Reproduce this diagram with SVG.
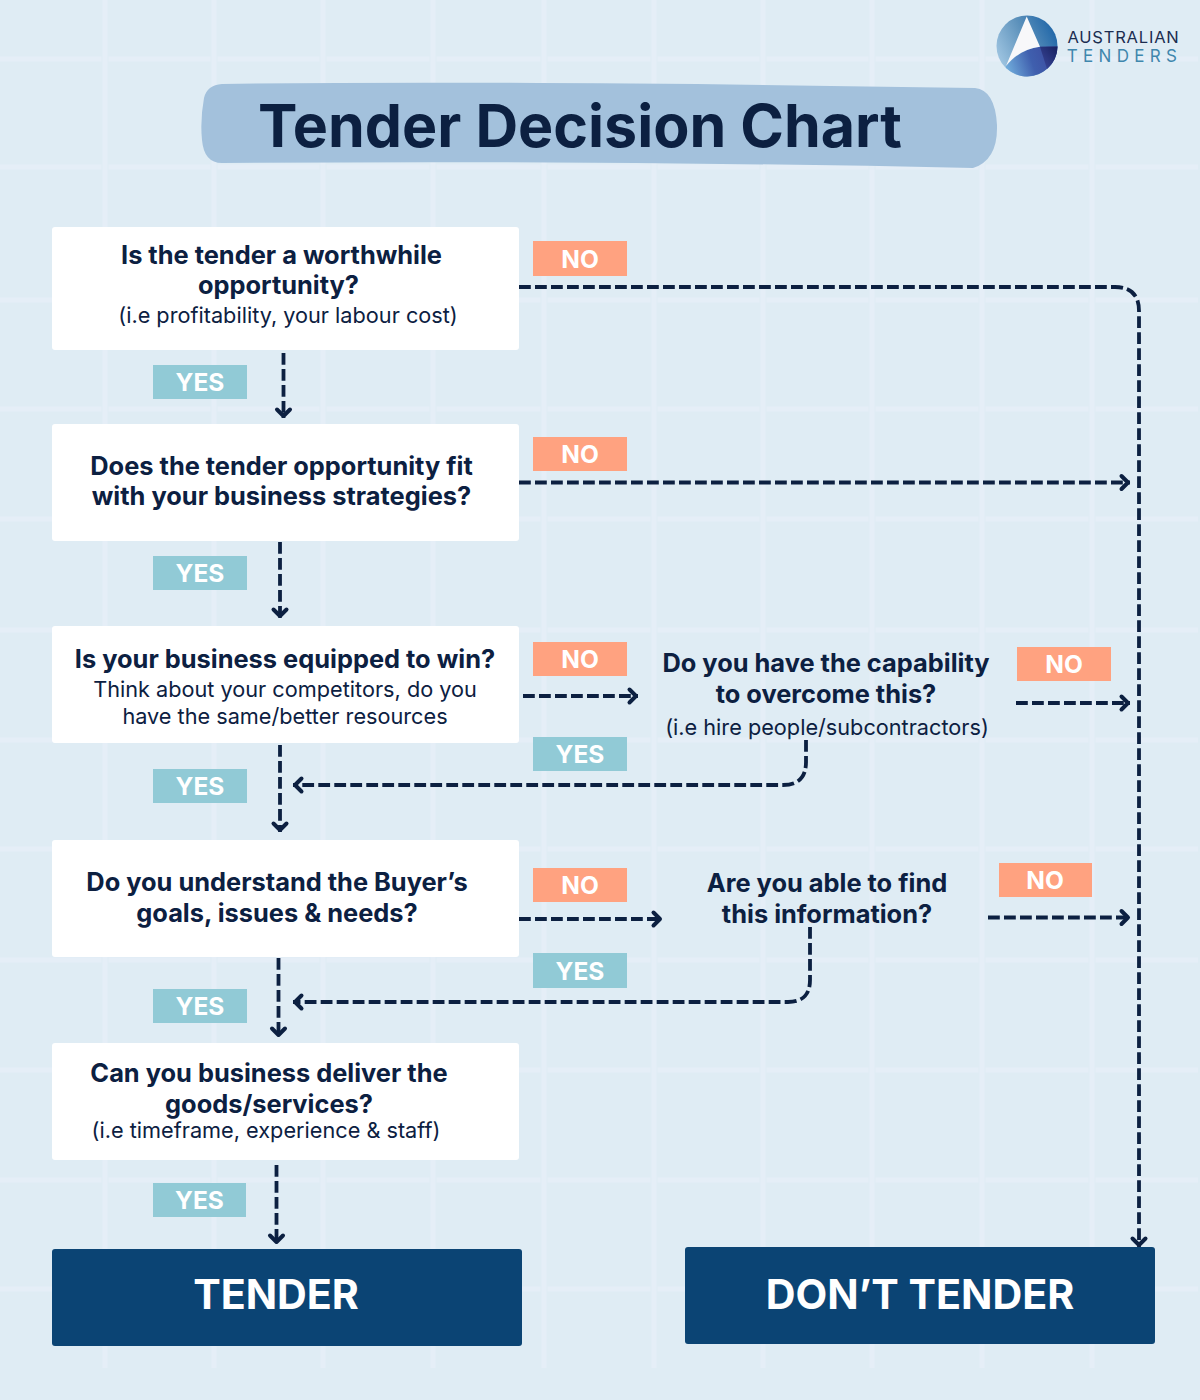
<svg xmlns="http://www.w3.org/2000/svg" width="1200" height="1400" viewBox="0 0 1200 1400">
<style>
text{font-family:"Inter","Liberation Sans",sans-serif;text-anchor:middle}
.q{font-size:25.400px;font-weight:700;fill:#0C2041}
.s{font-size:21.700px;font-weight:400;fill:#0C2041}
.t{font-size:24.500px;font-weight:700;fill:#fff}
.b{font-size:41.200px;font-weight:700;fill:#fff}
.box{fill:#fff}
.no{fill:#FFA280}
.yes{fill:#91CAD6}
.end{fill:#0B4474}
.h{stroke:#E5EEF7;stroke-width:5;fill:none}
.gap{stroke:#DFECF4;stroke-width:7;fill:none}
.v{stroke:#E5EEF7;stroke-width:5;fill:none}
.c{fill:none;stroke:#0C2041;stroke-width:3.800;stroke-dasharray:11.800 4.200;marker-end:url(#a)}
</style>
<defs>
<marker id="a" markerUnits="userSpaceOnUse" viewBox="-12 -10 20 20" refX="1.500" refY="0" markerWidth="20" markerHeight="20" orient="auto">
<path d="M-7,-6.500L-0.500,0L-7,6.500" fill="none" stroke="#0C2041" stroke-width="4" stroke-linecap="round" stroke-linejoin="round"/>
</marker>
<linearGradient id="g1" x1="0" y1="0.7" x2="1" y2="0.2"><stop offset="0" stop-color="#A0C6E2"/><stop offset="0.5" stop-color="#5F93BC"/><stop offset="1" stop-color="#1A62A6"/></linearGradient>
<linearGradient id="g2" x1="0" y1="0.6" x2="1" y2="0.4"><stop offset="0" stop-color="#6FAADA"/><stop offset="0.5" stop-color="#3F5FAE"/><stop offset="1" stop-color="#3C4A9E"/></linearGradient>
<linearGradient id="g3" x1="0" y1="1" x2="1" y2="0"><stop offset="0" stop-color="#3C4A9E"/><stop offset="1" stop-color="#17205F"/></linearGradient>
</defs>
<rect width="1200" height="1400" fill="#DFECF4"/>
<g id="grid">
<path class="h" d="M0,59H1198M0,167H1198M0,300H1198M0,409H1198M0,519H1198M0,630H1198M0,740H1198M0,849H1198M0,960H1198M0,1070H1198M0,1180H1198M0,1289H1198"/>
<path class="gap" d="M105,0V1368M214,0V1368M323,0V1368M433,0V1368M544,0V1368M654,0V1368M763,0V1368M872,0V1368M982,0V1368M1092,0V1368"/>
<path class="v" d="M105,0V1368M214,0V1368M323,0V1368M433,0V1368M544,0V1368M654,0V1368M763,0V1368M872,0V1368M982,0V1368M1092,0V1368"/>
</g>
<g id="logo">
<circle cx="1027" cy="46" r="30.500" fill="url(#g1)"/>
<path d="M1006,66C1017,53 1028,48.500 1040,46.700C1057,46.500 1057.500,46.500 1057.500,46.500A30.500,30.500 0 0 1 1006,68Z" fill="url(#g2)"/>
<path d="M1040,46.700L1057.500,46.500A30.500,30.500 0 0 1 1047,69Z" fill="url(#g3)"/>
<path d="M1026.700,16.500L1040,46.700C1026,48.500 1015,55 1006,66Z" fill="#F8F8FA"/>
<text x="1123.500" y="42.500" style="font-size:16.500px;font-weight:400;letter-spacing:0.800px;fill:#1B2C50">AUSTRALIAN</text>
<text x="1124.500" y="61.500" style="font-size:17px;font-weight:400;letter-spacing:5.300px;fill:#3F87AD">TENDERS</text>
</g>
<g id="title">
<path d="M204,98Q207,85 222,84Q500,80 975,88Q995,90 997,125Q998,160 973,168Q600,160 222,163Q204,163 202,140Q200,120 204,98Z" fill="#A3C1DC"/>
<text x="580" y="147" style="font-size:59px;font-weight:700;fill:#0C2041" textLength="644" lengthAdjust="spacingAndGlyphs">Tender Decision Chart</text>
</g>
<g id="connectors">
<path class="c" d="M519,287H1115Q1139,287 1139,311V1247"/>
<path class="c" d="M519,482.500H1130"/>
<path class="c" d="M283.500,353V418"/>
<path class="c" d="M280,542V618"/>
<path class="c" d="M280,745V832"/>
<path class="c" d="M278.500,958V1037"/>
<path class="c" d="M276.500,1165V1244"/>
<path class="c" d="M523,696H638"/>
<path class="c" d="M1016,703H1130"/>
<path class="c" d="M806,740V762Q806,785 783,785H293"/>
<path class="c" d="M519,919H662"/>
<path class="c" d="M988,917.500H1130"/>
<path class="c" d="M810,927V980Q810,1002 788,1002H293"/>
</g>
<g id="q1"><rect class="box" x="52" y="227" width="467" height="123" rx="3"/>
<text class="q" x="281.500" y="264">Is the tender a worthwhile</text><text class="q" x="278.500" y="294">opportunity?</text><text class="s" x="288" y="323">(i.e profitability, your labour cost)</text></g>
<g id="q2"><rect class="box" x="52" y="424" width="467" height="117" rx="3"/>
<text class="q" x="281.500" y="475">Does the tender opportunity fit</text><text class="q" x="281.500" y="505">with your business strategies?</text></g>
<g id="q3"><rect class="box" x="52" y="626" width="467" height="117" rx="3"/>
<text class="q" x="285" y="668">Is your business equipped to win?</text><text class="s" x="285" y="697">Think about your competitors, do you</text><text class="s" x="285" y="724">have the same/better resources</text></g>
<g id="q4"><rect class="box" x="52" y="840" width="467" height="117" rx="3"/>
<text class="q" x="277" y="891">Do you understand the Buyer’s</text><text class="q" x="277" y="922">goals, issues &amp; needs?</text></g>
<g id="q5"><rect class="box" x="52" y="1043" width="467" height="117" rx="3"/>
<text class="q" x="269" y="1082">Can you business deliver the</text><text class="q" x="269" y="1113">goods/services?</text><text class="s" x="266" y="1138">(i.e timeframe, experience &amp; staff)</text></g>
<g id="q6"><text class="q" x="826" y="672">Do you have the capability</text><text class="q" x="826" y="703">to overcome this?</text><text class="s" x="827" y="735">(i.e hire people/subcontractors)</text></g>
<g id="q7"><text class="q" x="827" y="892">Are you able to find</text><text class="q" x="827" y="923">this information?</text></g>
<g id="tender"><rect class="end" x="52" y="1249" width="470" height="97" rx="3"/><text class="b" x="276" y="1309">TENDER</text></g>
<g id="dont-tender"><rect class="end" x="685" y="1247" width="470" height="97" rx="3"/><text class="b" x="920" y="1309">DON’T TENDER</text></g>
<g id="no1"><rect class="no" x="533" y="241" width="94" height="35"/><text class="t" x="580" y="268">NO</text></g>
<g id="no2"><rect class="no" x="533" y="437" width="94" height="34"/><text class="t" x="580" y="463">NO</text></g>
<g id="no3"><rect class="no" x="533" y="642" width="94" height="34"/><text class="t" x="580" y="668">NO</text></g>
<g id="no4"><rect class="no" x="533" y="868" width="94" height="34"/><text class="t" x="580" y="894">NO</text></g>
<g id="no5"><rect class="no" x="1017" y="647" width="94" height="34"/><text class="t" x="1064" y="673">NO</text></g>
<g id="no6"><rect class="no" x="999" y="863" width="93" height="34"/><text class="t" x="1045" y="889">NO</text></g>
<g id="yes1"><rect class="yes" x="153" y="365" width="94" height="34"/><text class="t" x="200" y="391">YES</text></g>
<g id="yes2"><rect class="yes" x="153" y="556" width="94" height="34"/><text class="t" x="200" y="582">YES</text></g>
<g id="yes3"><rect class="yes" x="153" y="769" width="94" height="34"/><text class="t" x="200" y="795">YES</text></g>
<g id="yes4"><rect class="yes" x="153" y="989" width="94" height="34"/><text class="t" x="200" y="1015">YES</text></g>
<g id="yes5"><rect class="yes" x="153" y="1183" width="93" height="34"/><text class="t" x="199.500" y="1209">YES</text></g>
<g id="yes6"><rect class="yes" x="533" y="737" width="94" height="34"/><text class="t" x="580" y="763">YES</text></g>
<g id="yes7"><rect class="yes" x="533" y="953" width="94" height="35"/><text class="t" x="580" y="980">YES</text></g>
</svg>
